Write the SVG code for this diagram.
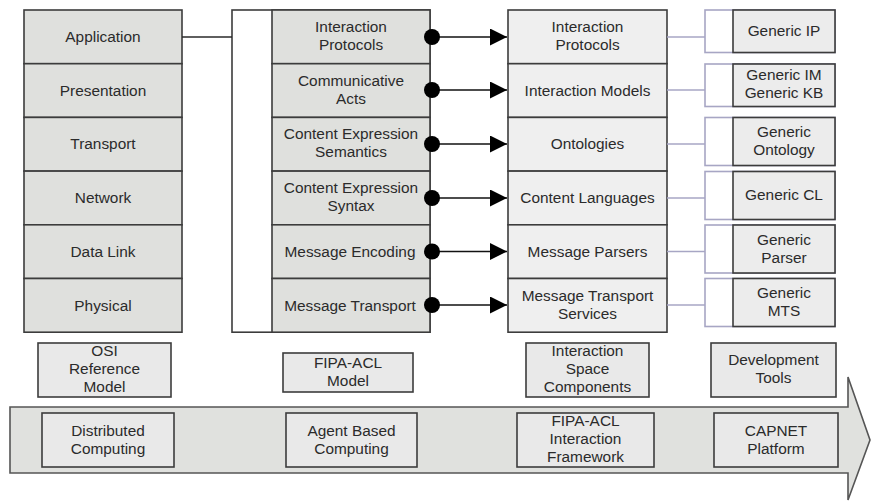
<svg xmlns="http://www.w3.org/2000/svg" width="871" height="502" viewBox="0 0 871 502">
<defs>
<style>
text{font-family:"Liberation Sans",Arial,sans-serif;font-size:15.4px;fill:#2b2b2b;text-anchor:middle}
.osi{fill:#dfe0dd;stroke:#3c3c3c;stroke-width:1.6}
.isc{fill:#efefef;stroke:#3c3c3c;stroke-width:1.6}
.gen{fill:#ececec;stroke:#3c3c3c;stroke-width:1.6}
.lbl{fill:#e9e9e9;stroke:#3c3c3c;stroke-width:1.6}
.brk{fill:#ffffff;stroke:#3c3c3c;stroke-width:1.6}
.pbrk{fill:#ffffff;stroke:#a7a6c4;stroke-width:1.6}
.pl{stroke:#a7a6c4;stroke-width:1.6;fill:none}
.dl{stroke:#2a2a2a;stroke-width:1.6;fill:none}
.arr{stroke:#111;stroke-width:1.6;fill:none;marker-start:url(#dot);marker-end:url(#tri)}
</style>
<marker id="dot" markerUnits="userSpaceOnUse" markerWidth="18" markerHeight="18" refX="9" refY="9" orient="auto"><circle cx="9" cy="9" r="8" fill="#000"/></marker>
<marker id="tri" markerUnits="userSpaceOnUse" markerWidth="18" markerHeight="17" refX="17" refY="8.5" orient="auto"><path d="M0,0 L17,8.5 L0,17 z" fill="#000"/></marker>
</defs>

<g id="big-arrow">
<path d="M10,407 L848,407 L848,377 L870,440 L848,500 L848,473 L10,473 z" fill="#e0e1de" stroke="#555" stroke-width="1.6"/>
</g>

<g id="osi">
<rect class="osi" x="24" y="10" width="158" height="53.7"/>
<text x="103" y="42">Application</text>
<rect class="osi" x="24" y="63.7" width="158" height="53.7"/>
<text x="103" y="95.7">Presentation</text>
<rect class="osi" x="24" y="117.4" width="158" height="53.7"/>
<text x="103" y="149.4">Transport</text>
<rect class="osi" x="24" y="171.1" width="158" height="53.7"/>
<text x="103" y="203.1">Network</text>
<rect class="osi" x="24" y="224.8" width="158" height="53.7"/>
<text x="103" y="256.8">Data Link</text>
<rect class="osi" x="24" y="278.5" width="158" height="53.7"/>
<text x="103" y="310.5">Physical</text>
</g>

<g id="fipa">
<rect class="brk" x="232" y="10" width="198" height="322.2"/>
<rect class="osi" x="272" y="10" width="158" height="53.7"/>
<text x="351" y="32">Interaction</text><text x="351" y="50">Protocols</text>
<rect class="osi" x="272" y="63.7" width="158" height="53.7"/>
<text x="351" y="85.7">Communicative</text><text x="351" y="103.7">Acts</text>
<rect class="osi" x="272" y="117.4" width="158" height="53.7"/>
<text x="351" y="139.4">Content Expression</text><text x="351" y="157.4">Semantics</text>
<rect class="osi" x="272" y="171.1" width="158" height="53.7"/>
<text x="351" y="193.1">Content Expression</text><text x="351" y="211.1">Syntax</text>
<rect class="osi" x="272" y="224.8" width="158" height="53.7"/>
<text x="350" y="256.8">Message Encoding</text>
<rect class="osi" x="272" y="278.5" width="158" height="53.7"/>
<text x="350" y="310.5">Message Transport</text>
</g>

<g id="isc">
<rect class="isc" x="508" y="10" width="159" height="53.7"/>
<text x="587.5" y="32">Interaction</text><text x="587.5" y="50">Protocols</text>
<rect class="isc" x="508" y="63.7" width="159" height="53.7"/>
<text x="587.5" y="95.7">Interaction Models</text>
<rect class="isc" x="508" y="117.4" width="159" height="53.7"/>
<text x="587.5" y="149.4">Ontologies</text>
<rect class="isc" x="508" y="171.1" width="159" height="53.7"/>
<text x="587.5" y="203.1">Content Languages</text>
<rect class="isc" x="508" y="224.8" width="159" height="53.7"/>
<text x="587.5" y="256.8">Message Parsers</text>
<rect class="isc" x="508" y="278.5" width="159" height="53.7"/>
<text x="587.5" y="300.5">Message Transport</text><text x="587.5" y="318.5">Services</text>
</g>

<g id="generic-ip">
<rect class="pbrk" x="705" y="10" width="130" height="42.5"/>
<rect class="gen" x="733" y="10" width="102" height="42.5"/>
<text x="784" y="36">Generic IP</text>
</g>
<g id="generic-im">
<rect class="pbrk" x="705" y="64" width="130" height="42.5"/>
<rect class="gen" x="733" y="64" width="102" height="42.5"/>
<text x="784" y="80">Generic IM</text><text x="784" y="98">Generic KB</text>
</g>
<g id="generic-ontology">
<rect class="pbrk" x="705" y="117.5" width="130" height="48"/>
<rect class="gen" x="733" y="117.5" width="102" height="48"/>
<text x="784" y="137">Generic</text><text x="784" y="155">Ontology</text>
</g>
<g id="generic-cl">
<rect class="pbrk" x="705" y="171.5" width="130" height="48"/>
<rect class="gen" x="733" y="171.5" width="102" height="48"/>
<text x="784" y="200">Generic CL</text>
</g>
<g id="generic-parser">
<rect class="pbrk" x="705" y="225" width="130" height="48"/>
<rect class="gen" x="733" y="225" width="102" height="48"/>
<text x="784" y="245">Generic</text><text x="784" y="263">Parser</text>
</g>
<g id="generic-mts">
<rect class="pbrk" x="705" y="278.5" width="130" height="48"/>
<rect class="gen" x="733" y="278.5" width="102" height="48"/>
<text x="784" y="298">Generic</text><text x="784" y="316">MTS</text>
</g>

<g id="connectors">
<line class="dl" x1="182" y1="37" x2="232" y2="37"/>
<line class="arr" x1="432" y1="37" x2="507" y2="37"/>
<line class="arr" x1="432" y1="90" x2="507" y2="90"/>
<line class="arr" x1="432" y1="144" x2="507" y2="144"/>
<line class="arr" x1="432" y1="198" x2="507" y2="198"/>
<line class="arr" x1="432" y1="251.5" x2="507" y2="251.5"/>
<line class="arr" x1="432" y1="305" x2="507" y2="305"/>
<line class="pl" x1="667" y1="37" x2="705" y2="37"/>
<line class="pl" x1="667" y1="90" x2="705" y2="90"/>
<line class="pl" x1="667" y1="144" x2="705" y2="144"/>
<line class="pl" x1="667" y1="198" x2="705" y2="198"/>
<line class="pl" x1="667" y1="251.5" x2="705" y2="251.5"/>
<line class="pl" x1="667" y1="305" x2="705" y2="305"/>
</g>

<g id="osi-label">
<rect class="lbl" x="38" y="343" width="133" height="54"/>
<text x="104.5" y="356">OSI</text><text x="104.5" y="374">Reference</text><text x="104.5" y="392">Model</text>
</g>
<g id="fipa-label">
<rect class="lbl" x="283" y="353" width="130" height="39"/>
<text x="348" y="368">FIPA-ACL</text><text x="348" y="386">Model</text>
</g>
<g id="isc-label">
<rect class="lbl" x="526" y="343" width="123" height="54"/>
<text x="587.5" y="356">Interaction</text><text x="587.5" y="374">Space</text><text x="587.5" y="392">Components</text>
</g>
<g id="dev-label">
<rect class="lbl" x="711" y="343" width="125" height="54"/>
<text x="773.5" y="365">Development</text><text x="773.5" y="383">Tools</text>
</g>

<g id="distributed">
<rect class="lbl" x="42" y="413" width="132" height="54"/>
<text x="108" y="436">Distributed</text><text x="108" y="454">Computing</text>
</g>
<g id="agent">
<rect class="lbl" x="286" y="413" width="131" height="54"/>
<text x="351.5" y="436">Agent Based</text><text x="351.5" y="454">Computing</text>
</g>
<g id="framework">
<rect class="lbl" x="517" y="413" width="137" height="54"/>
<text x="585.5" y="426">FIPA-ACL</text><text x="585.5" y="444">Interaction</text><text x="585.5" y="462">Framework</text>
</g>
<g id="capnet">
<rect class="lbl" x="714" y="413" width="124" height="54"/>
<text x="776" y="436">CAPNET</text><text x="776" y="454">Platform</text>
</g>
</svg>
